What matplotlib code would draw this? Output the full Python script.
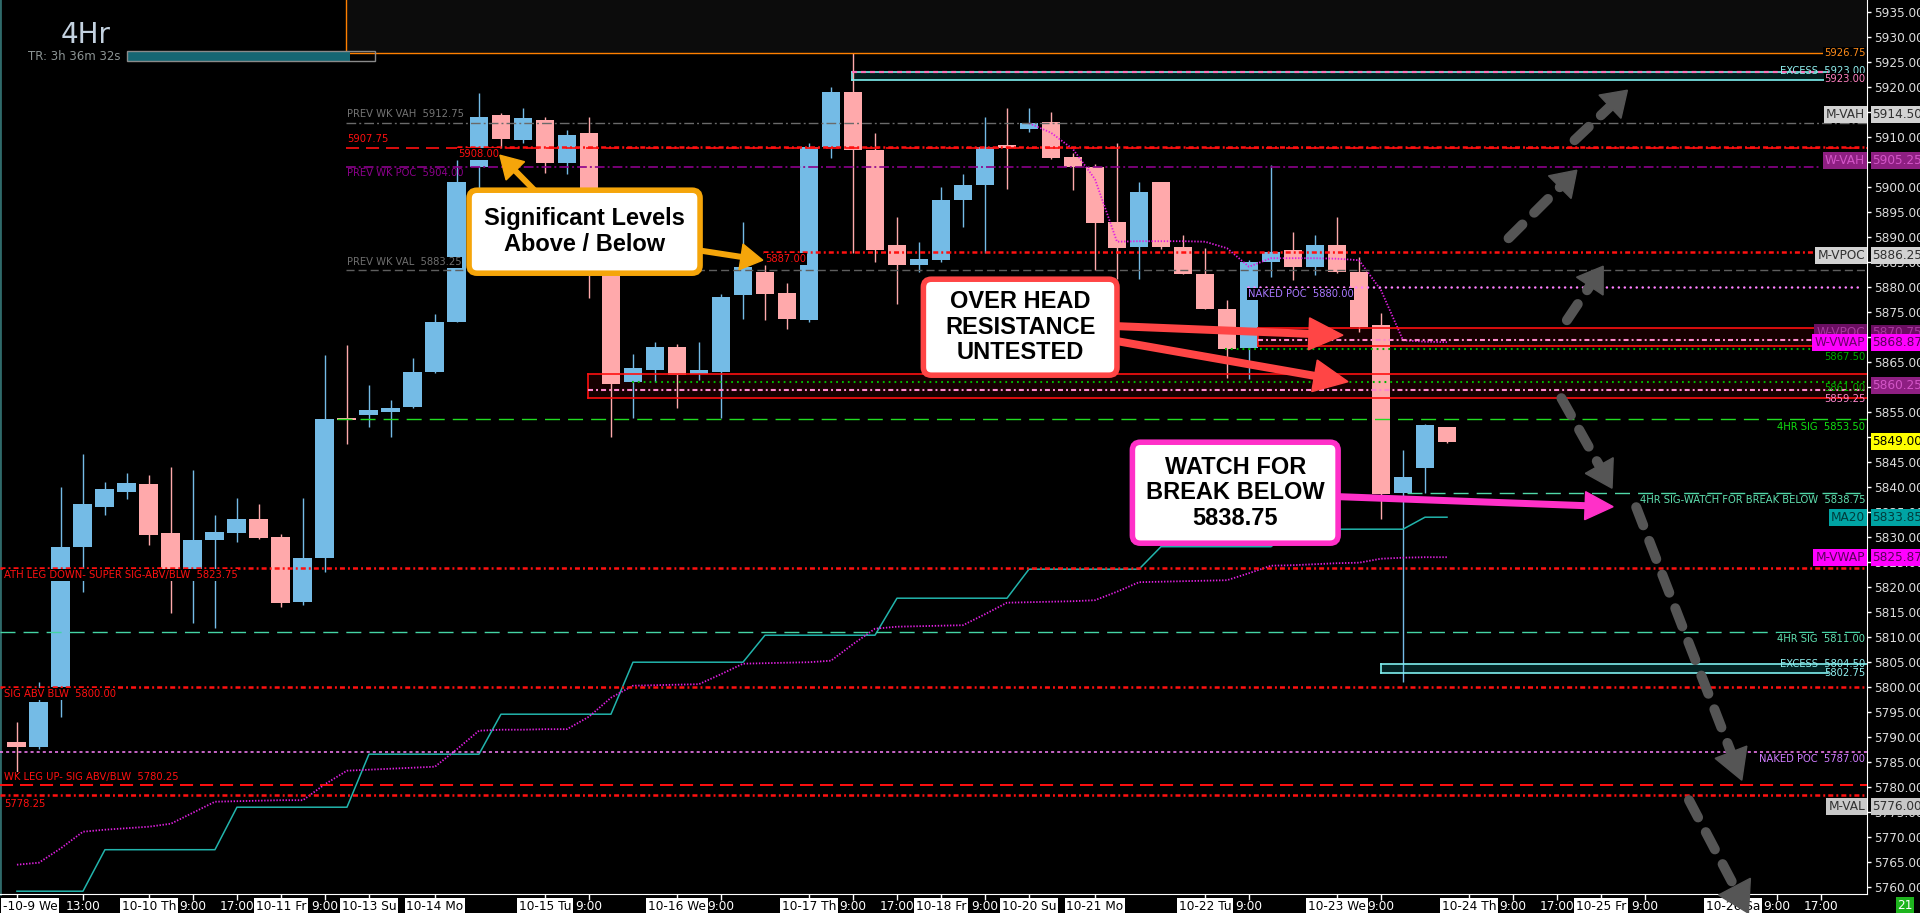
import numpy as np
import matplotlib
matplotlib.use("Agg")
import matplotlib.pyplot as plt
import matplotlib.transforms as mtransforms
from matplotlib import font_manager
from matplotlib.lines import Line2D
from matplotlib.patches import Rectangle, FancyBboxPatch, Polygon

W, H, DPI = 1920, 913, 100

# ---------------------------------------------------------------- data
FIRST_BAR = -6  # bar index of first 4hr candle (10-10 Th 1:00 bar = 0)

OPENS = [5789.0, 5788.0, 5800.0, 5828.0, 5836.0, 5839.0, 5840.5, 5830.75, 5823.5, 5829.25,
         5830.75, 5833.5, 5830.0, 5817.0, 5825.75, 5853.75, 5854.25, 5855.0, 5856.0, 5863.0,
         5873.0, 5904.0, 5914.25, 5909.25, 5913.25, 5904.75, 5910.75, 5891.0, 5861.0, 5863.25,
         5868.0, 5862.5, 5863.0, 5878.25, 5883.0, 5878.75, 5873.25, 5908.0, 5919.0, 5907.25,
         5888.25, 5884.25, 5885.25, 5897.25, 5900.25, 5908.0, 5911.5, 5913.0, 5906.0, 5904.0,
         5893.0, 5888.0, 5901.0, 5888.0, 5882.5, 5875.5, 5867.75, 5885.0, 5887.25, 5884.0,
         5888.25, 5883.0, 5872.25, 5838.75, 5843.75, 5852.0]
HIGHS = [5793.0, 5801.0, 5840.0, 5846.5, 5841.0, 5842.75, 5842.25, 5844.0, 5843.25, 5834.25,
         5837.75, 5836.5, 5830.5, 5837.75, 5866.25, 5868.25, 5860.25, 5857.25, 5865.75, 5874.5,
         5905.25, 5918.75, 5914.75, 5915.75, 5914.0, 5911.25, 5914.0, 5893.0, 5866.5, 5869.0,
         5868.5, 5869.0, 5878.5, 5893.0, 5884.25, 5880.75, 5908.75, 5920.0, 5926.75, 5910.75,
         5894.0, 5889.0, 5900.0, 5902.5, 5914.0, 5915.75, 5915.75, 5915.0, 5906.75, 5904.5,
         5908.75, 5901.0, 5901.0, 5890.25, 5887.75, 5877.25, 5885.25, 5904.25, 5891.0, 5890.25,
         5894.0, 5886.0, 5874.75, 5847.25, 5852.5, 5852.0]
LOWS = [5783.0, 5787.5, 5794.0, 5819.0, 5834.25, 5837.5, 5828.25, 5814.75, 5812.75, 5811.75,
        5829.0, 5829.5, 5816.0, 5816.25, 5823.0, 5848.5, 5852.0, 5850.0, 5855.75, 5862.75,
        5873.0, 5899.5, 5907.75, 5908.75, 5902.75, 5902.5, 5877.75, 5850.0, 5853.75, 5861.0,
        5855.75, 5861.25, 5853.75, 5873.5, 5873.25, 5871.5, 5873.0, 5905.75, 5886.75, 5885.0,
        5876.5, 5883.0, 5885.0, 5892.0, 5886.75, 5899.5, 5911.0, 5905.5, 5899.25, 5883.25,
        5881.5, 5881.5, 5887.5, 5882.5, 5875.5, 5861.75, 5861.5, 5882.0, 5881.25, 5882.25,
        5882.75, 5871.0, 5833.5, 5801.0, 5838.75, 5848.75]
CLOSES = [5788.0, 5797.0, 5828.0, 5836.5, 5839.5, 5840.75, 5830.25, 5823.5, 5829.25, 5831.0,
          5833.5, 5829.75, 5816.75, 5825.75, 5853.5, 5853.25, 5855.25, 5855.75, 5863.0, 5873.0,
          5901.0, 5914.0, 5909.5, 5913.75, 5904.75, 5910.25, 5892.0, 5860.5, 5863.75, 5868.0,
          5862.25, 5863.25, 5878.0, 5884.0, 5878.5, 5873.5, 5908.0, 5919.0, 5907.25, 5887.25,
          5884.25, 5885.5, 5897.25, 5900.25, 5908.0, 5907.75, 5912.75, 5905.75, 5904.0, 5892.75,
          5887.75, 5899.0, 5888.0, 5882.5, 5875.5, 5867.5, 5885.0, 5887.0, 5884.0, 5888.25,
          5883.0, 5872.0, 5838.5, 5842.0, 5852.25, 5849.0]

MA20 = [5759.1, 5759.1, 5759.1, 5759.1, 5767.4, 5767.4, 5767.4, 5767.4, 5767.4, 5767.4,
        5775.9, 5775.9, 5775.9, 5775.9, 5775.9, 5775.9, 5786.5, 5786.5, 5786.5, 5786.5,
        5786.5, 5786.5, 5794.5, 5794.5, 5794.5, 5794.5, 5794.5, 5794.5, 5804.9, 5804.9,
        5804.9, 5804.9, 5804.9, 5804.9, 5810.3, 5810.3, 5810.3, 5810.3, 5810.3, 5810.3,
        5817.7, 5817.7, 5817.7, 5817.7, 5817.7, 5817.7, 5823.5, 5823.5, 5823.5, 5823.5,
        5823.5, 5823.5, 5828.0, 5828.0, 5828.0, 5828.0, 5828.0, 5828.0, 5831.5, 5831.5,
        5831.5, 5831.5, 5831.5, 5831.5, 5833.9, 5833.9]
M_VWAP = [5764.4, 5764.8, 5767.7, 5771.0, 5771.4, 5771.7, 5772.0, 5772.6, 5774.8, 5777.0,
          5777.1, 5777.2, 5777.3, 5777.3, 5780.5, 5783.2, 5783.4, 5783.6, 5783.8, 5784.0,
          5787.5, 5791.2, 5791.4, 5791.4, 5791.5, 5791.5, 5794.0, 5797.8, 5800.2, 5800.3,
          5800.4, 5800.5, 5802.5, 5804.6, 5804.7, 5804.8, 5804.9, 5805.2, 5808.5, 5811.6,
          5812.0, 5812.1, 5812.2, 5812.3, 5814.5, 5816.8, 5816.9, 5817.0, 5817.1, 5817.3,
          5819.0, 5820.9, 5821.0, 5821.1, 5821.2, 5821.3, 5822.7, 5824.2, 5824.3, 5824.5,
          5824.7, 5824.8, 5825.6, 5825.8, 5825.9, 5825.9]
W_VWAP_FIRST_BAR = 40
W_VWAP = [5912.7, 5910.8, 5907.5, 5901.5, 5889.0, 5889.1, 5889.1, 5889.1, 5889.0, 5887.7,
          5884.0, 5885.7, 5885.7, 5885.7, 5885.6, 5885.3, 5879.3, 5869.3, 5869.0, 5868.9]

TICK_BARS = [-6, -3, 0, 2, 4, 6, 8, 10, 13, 18, 20, 24, 26, 30, 32, 34, 36, 38, 40, 43,
             48, 50, 54, 56, 60, 62, 64, 66, 68, 72, 74, 76]
TICK_LABELS = ["-10-9 We", "13:00", "10-10 Th", "9:00", "17:00", "10-11 Fr", "9:00", "10-13 Su",
               "10-14 Mo", "10-15 Tu", "9:00", "10-16 We", "9:00", "10-17 Th", "9:00", "17:00",
               "10-18 Fr", "9:00", "10-20 Su", "10-21 Mo", "10-22 Tu", "9:00", "10-23 We", "9:00",
               "10-24 Th", "9:00", "17:00", "10-25 Fr", "9:00", "10-26 Sa", "9:00", "17:00"]
PRICE_TICKS = [5760, 5765, 5770, 5775, 5780, 5785, 5790, 5795, 5800, 5805, 5810, 5815, 5820,
               5825, 5830, 5835, 5840, 5845, 5850, 5855, 5860, 5865, 5870, 5875, 5880, 5885,
               5890, 5895, 5900, 5905, 5910, 5915, 5920, 5925, 5930, 5935]

# key levels
HIGH_LEVEL = 5926.75
EXCESS_TOP = (5921.3, 5923.00)
PREV_WK_VAH = 5912.75
RED_LEVEL_A = 5907.75
RED_LEVEL_B = 5908.00
PREV_WK_POC = 5904.00
RED_LEVEL_C = 5887.00
PREV_WK_VAL = 5883.25
NAKED_POC_HI = 5880.00
ZONE_UPPER = (5868.1, 5871.7)
ZONE_UPPER_MID = 5869.25
GREEN_UPPER = 5867.50
ZONE_LOWER = (5857.7, 5862.5)
GREEN_LOWER = 5861.00
ZONE_LOWER_MID = 5859.25
SIG_4HR = 5853.50
SIG_4HR_WATCH = 5838.75
ATH_LEG_DOWN = 5823.75
SIG_4HR_LOW = 5811.00
EXCESS_LOW = (5802.75, 5804.50)
SIG_ABV_BLW = 5800.00
NAKED_POC_LO = 5787.00
WK_LEG_UP = 5780.25
RED_LEVEL_LOW = 5778.25

MARKER_NAMES = ["M-VAH", "W-VAH", "M-VPOC", "W-VPOC", "W-VWAP", "MA20", "M-VWAP", "M-VAL"]
MARKER_VALUES = [5914.50, 5905.25, 5886.25, 5870.75, 5868.87, 5833.85, 5825.87, 5776.00]
EXTRA_AXIS_VALUES = [5860.25, 5849.00]

# ---------------------------------------------------------------- style
installed = {f.name for f in font_manager.fontManager.ttflist}
NARROW = "Liberation Sans Narrow" if "Liberation Sans Narrow" in installed else "DejaVu Sans"
SMALL = 9.2 if NARROW != "DejaVu Sans" else 7.2
BOLD = "Liberation Sans" if "Liberation Sans" in installed else "DejaVu Sans"
plt.rcParams["lines.scale_dashes"] = False

BLUE = "#74bbe6"
PINK = "#ffa9ab"
RED = "#ff1010"
DASHDOT = (3.6, 2.2, 1.4, 2.2)
LONGDASH = (9.4, 5.0)
IDENT = mtransforms.IdentityTransform()

XMIN, XMAX = -6.77, 78.09
YMIN, YMAX = 5758.54, 5937.34
X_RIGHT_LBL = 78.02
X_LEFT_LBL = -6.6
X_PROFILE = 8.95

fig = plt.figure(figsize=(W / DPI, H / DPI), dpi=DPI, facecolor="black")
ax = fig.add_axes([0, 19 / H, 1867 / W, 894 / H], facecolor="black")
ax.set_xlim(XMIN, XMAX)
ax.set_ylim(YMIN, YMAX)

# ---------------------------------------------------------------- candles
bars = np.arange(FIRST_BAR, FIRST_BAR + len(OPENS))
o, h, l, c = (np.array(a) for a in (OPENS, HIGHS, LOWS, CLOSES))
cols = np.where(c >= o, BLUE, PINK)
ax.vlines(bars, l, h, colors=cols, lw=1, zorder=3)
ax.bar(bars, np.maximum(np.abs(c - o), 0.5), bottom=np.minimum(o, c), width=0.86,
       color=cols, linewidth=0, zorder=4)

# moving average and vwaps
ax.plot(bars, MA20, color="#22b4ac", lw=1.1, zorder=5)
ax.plot(bars, M_VWAP, color="#e020e0", lw=1.3, dashes=(1.0, 1.2), zorder=5)
wb = np.arange(W_VWAP_FIRST_BAR, W_VWAP_FIRST_BAR + len(W_VWAP))
ax.plot(wb, W_VWAP, color="#e020e0", lw=1.3, dashes=(1.0, 1.2), zorder=5)


def level(price, start, color, lw=1.0, dashes=None, end=XMAX, z=6, cap="butt"):
    kw = {"dashes": dashes} if dashes else {}
    ax.plot([start, end], [price, price], color=color, lw=lw, zorder=z,
            solid_capstyle="butt", dash_capstyle=cap, **kw)


def zone(lo, hi, start, end, face, edge, lw=1.2):
    ax.add_patch(Rectangle((start, lo), end - start, hi - lo, facecolor=face,
                           edgecolor="none", zorder=1))
    ax.plot([start, end], [hi, hi], color=edge, lw=lw, zorder=6)
    ax.plot([start, end], [lo, lo], color=edge, lw=lw, zorder=6)
    ax.plot([start, start], [lo, hi], color=edge, lw=lw, zorder=6)


def label(x, price, text, color, ha="left", bg="black", size=None):
    ax.text(x, price, text, color=color, ha=ha, va="center", fontsize=size or SMALL,
            family=NARROW, zorder=8,
            bbox=dict(facecolor=bg, edgecolor="none", pad=0.6) if bg else None)


# top range box
ax.add_patch(Rectangle((X_PROFILE, HIGH_LEVEL), XMAX - X_PROFILE, YMAX - HIGH_LEVEL,
                       facecolor="#0c0c0c", edgecolor="none", zorder=0.5))
ax.plot([X_PROFILE, X_PROFILE], [HIGH_LEVEL, YMAX], color="#ff8000", lw=1, zorder=6)
level(HIGH_LEVEL, X_PROFILE, "#ff8000", end=76.3)
label(X_RIGHT_LBL, HIGH_LEVEL, "5926.75", "#ff8c1a", ha="right")

# excess box up top
zone(EXCESS_TOP[0], EXCESS_TOP[1], 31.95, 76.3, "#021c1e", "#7ff0f0")
level(EXCESS_TOP[1], 31.95, "#ff70b8", lw=1.6, dashes=(3.5, 3.0), end=76.3, z=7)
label(X_RIGHT_LBL, EXCESS_TOP[1] + 0.1, "EXCESS  5923.00", "#90f0f0", ha="right", bg=None)
label(X_RIGHT_LBL, EXCESS_TOP[0] + 0.2, "5923.00", "#ff80c0", ha="right")

# previous week profile levels
level(PREV_WK_VAH, X_PROFILE, "#6a6a6a", dashes=(7, 2.2, 1.4, 2.2))
label(X_PROFILE + 0.05, PREV_WK_VAH + 1.7, "PREV WK VAH  5912.75", "#747474", bg=None)
level(RED_LEVEL_A, X_PROFILE, RED, lw=1.2, dashes=LONGDASH)
label(X_PROFILE + 0.05, RED_LEVEL_A + 1.8, "5907.75", RED, bg=None)
level(RED_LEVEL_B, 14.0, RED, lw=1.8, dashes=DASHDOT)
label(14.05, RED_LEVEL_B - 1.4, "5908.00", RED)
level(PREV_WK_POC, X_PROFILE, "#8b008b", lw=1.2, dashes=(7, 2.2, 1.4, 2.2), end=75.95)
label(X_PROFILE + 0.05, PREV_WK_POC - 1.3, "PREV WK POC  5904.00", "#8b008b", bg=None)
level(RED_LEVEL_C, 27.9, RED, lw=1.8, dashes=DASHDOT)
label(28.0, RED_LEVEL_C - 1.4, "5887.00", RED)
level(PREV_WK_VAL, X_PROFILE, "#5e5e5e", dashes=(5.8, 2.9))
label(X_PROFILE + 0.05, PREV_WK_VAL + 1.6, "PREV WK VAL  5883.25", "#6e6e6e")
level(NAKED_POC_HI, 49.95, "#ff80ff", lw=1.8, dashes=(0.1, 4.2), end=77.9, cap="round")
label(49.95, NAKED_POC_HI - 1.4, "NAKED POC  5880.00", "#a878ff")

# untested resistance zones
zone(ZONE_UPPER[0], ZONE_UPPER[1], 50.4, XMAX, "#160000", RED)
level(ZONE_UPPER_MID, 50.4, "#ff88cc", lw=1.5, dashes=DASHDOT)
level(GREEN_UPPER, 48.9, "#00b400", lw=1.5, dashes=(1.3, 2.9))
zone(ZONE_LOWER[0], ZONE_LOWER[1], 19.97, XMAX, "#160000", RED)
level(GREEN_LOWER, 21.95, "#00b400", lw=1.5, dashes=(1.3, 2.9))
level(ZONE_LOWER_MID, 19.97, "#ff88cc", lw=1.5, dashes=DASHDOT)
label(X_RIGHT_LBL, 5868.0, "5869.25", "#ff88cc", ha="right", bg=None)
label(X_RIGHT_LBL, 5866.0, "5867.50", "#00a800", ha="right", bg=None)
label(X_RIGHT_LBL, 5859.7, "5861.00", "#00b400", ha="right", bg=None)
label(X_RIGHT_LBL, 5857.6, "5859.25", "#ff88cc", ha="right", bg=None)

# 4hr signals
level(SIG_4HR, 8.55, "#22dd22", dashes=(10.8, 5.8))
label(X_RIGHT_LBL, SIG_4HR - 1.5, "4HR SIG  5853.50", "#10e010", ha="right")
level(SIG_4HR_WATCH, 57.2, "#50d8a8", dashes=(10.8, 5.8))
label(X_RIGHT_LBL, SIG_4HR_WATCH - 1.5, "4HR SIG-WATCH FOR BREAK BELOW  5838.75", "#60e0b0",
      ha="right")
level(SIG_4HR_LOW, XMIN, "#44d4a4", dashes=(10.8, 5.8))
label(X_RIGHT_LBL, SIG_4HR_LOW - 1.5, "4HR SIG  5811.00", "#60e0b0", ha="right")

# lower levels
level(ATH_LEG_DOWN, XMIN, RED, lw=1.8, dashes=DASHDOT)
label(X_LEFT_LBL, ATH_LEG_DOWN - 1.4, "ATH LEG DOWN- SUPER SIG-ABV/BLW  5823.75", RED)
zone(EXCESS_LOW[0], EXCESS_LOW[1], 56.0, 76.3, "#022222", "#7ff0f0")
level(EXCESS_LOW[1], 76.3, "#7ff0f0", lw=1.2)
label(X_RIGHT_LBL, EXCESS_LOW[1], "EXCESS  5804.50", "#90f0f0", ha="right", bg=None)
label(X_RIGHT_LBL, EXCESS_LOW[0], "5802.75", "#90f0f0", ha="right", bg=None)
level(SIG_ABV_BLW, XMIN, RED, lw=1.8, dashes=DASHDOT)
label(X_LEFT_LBL, SIG_ABV_BLW - 1.5, "SIG ABV BLW  5800.00", RED)
level(NAKED_POC_LO, XMIN, "#ff80ff", lw=1.1, dashes=(2.2, 2.2))
label(X_RIGHT_LBL, NAKED_POC_LO - 1.5, "NAKED POC  5787.00", "#d07cff", ha="right")
level(WK_LEG_UP, XMIN, RED, lw=1.4, dashes=LONGDASH)
label(X_LEFT_LBL, WK_LEG_UP + 1.6, "WK LEG UP- SIG ABV/BLW  5780.25", RED)
level(RED_LEVEL_LOW, XMIN, RED, lw=1.8, dashes=DASHDOT)
label(X_LEFT_LBL, RED_LEVEL_LOW - 1.8, "5778.25", RED, bg=None)

# marker tags on the right edge of the chart and in the price scale
tag_style = {
    "M-VAH": ("#d2d2d2", "#303030"), "W-VAH": ("#8e1f82", "#d455c8"),
    "M-VPOC": ("#d2d2d2", "#303030"), "W-VPOC": ("#6b0f62", "#a83aa0"),
    "W-VWAP": ("#ff00ff", "#6a006a"), "MA20": ("#00a4a4", "#003c3c"),
    "M-VWAP": ("#ff00ff", "#5a005a"), "M-VAL": ("#c8c8c8", "#303030"),
}
ax_tr = mtransforms.blended_transform_factory(ax.transAxes, ax.transData)
for name, val in zip(MARKER_NAMES, MARKER_VALUES):
    bg, fg = tag_style[name]
    ax.text(78.0, val, name, ha="right", va="center", fontsize=SMALL + 1.5, family=NARROW,
            color=fg, zorder=9, bbox=dict(facecolor=bg, edgecolor="none", pad=1.5))
    ax.text(1.0029, val, f"{val:.2f}", transform=ax_tr, ha="left", va="center",
            fontsize=SMALL + 1.5, family=NARROW, color=fg if bg != "#ff00ff" else "#5a005a",
            zorder=20, clip_on=False, bbox=dict(facecolor=bg, edgecolor="none", pad=1.3))
extra_style = [("#8e1f82", "#d455c8"), ("#ffff00", "#000000")]
for val, (bg, fg) in zip(EXTRA_AXIS_VALUES, extra_style):
    ax.text(1.0029, val, f"{val:.2f}", transform=ax_tr, ha="left", va="center",
            fontsize=SMALL + 1.5, family=NARROW, color=fg, zorder=20, clip_on=False,
            bbox=dict(facecolor=bg, edgecolor="none", pad=1.3))

# ---------------------------------------------------------------- axes
for side in ("top",):
    ax.spines[side].set_visible(False)
ax.spines["right"].set_color("white")
ax.spines["bottom"].set_color("white")
ax.spines["left"].set_color("#2f6a6a")
ax.spines["left"].set_linewidth(2)
ax.yaxis.tick_right()
ax.set_yticks(PRICE_TICKS)
ax.set_yticklabels([f"{p:.2f}" for p in PRICE_TICKS])
ax.tick_params(axis="y", colors="white", labelcolor="#dcdcdc", length=3, width=1, pad=2,
               labelsize=SMALL + 1.5, labelfontfamily=NARROW)
ax.set_xticks(TICK_BARS)
ax.set_xticklabels([])
ax.tick_params(axis="x", colors="white", length=4, width=1)

tx = mtransforms.blended_transform_factory(ax.transData, ax.transAxes)
for b, t in zip(TICK_BARS, TICK_LABELS):
    is_date = "-" in t
    x = b
    ha = "center"
    if t.startswith("-"):
        x, ha = XMIN + 0.12, "left"
    ax.text(x, -12 / 894, t, transform=tx, ha=ha, va="center", fontsize=SMALL + 1.5,
            family=NARROW, color="black" if is_date else "white", clip_on=False, zorder=9,
            bbox=dict(facecolor="white", edgecolor="none", pad=1.2) if is_date else None)

fig.text(1905 / W, 1 - 905 / H, "21", ha="center", va="center", fontsize=SMALL + 1.5,
         family=NARROW, color="white",
         bbox=dict(facecolor="#1eb41e", edgecolor="none", pad=1.2))

# header: timeframe and bar timer
fig.text(86 / W, 1 - 35 / H, "4Hr", ha="center", va="center", fontsize=20, family=NARROW,
         color="#c4d2e0")
fig.text(121 / W, 1 - 57 / H, "TR: 3h 36m 32s", ha="right", va="center", fontsize=8.5,
         family=NARROW, color="#8c9494")
fig.add_artist(Rectangle((127 / W, 1 - 61 / H), 223 / W, 10 / H, transform=fig.transFigure,
                         facecolor="#156673", edgecolor="none", zorder=10))
fig.add_artist(Rectangle((127 / W, 1 - 61 / H), 248 / W, 10 / H, transform=fig.transFigure,
                         facecolor="none", edgecolor="#8a8a8a", lw=1, zorder=11))


# ---------------------------------------------------------------- annotations
def arrow(tail, tip, color, width, head_len, head_w, dashes=None):
    (x0, y0), (x1, y1) = ax.transData.transform([tail, tip])
    ux, uy = x1 - x0, y1 - y0
    n = np.hypot(ux, uy)
    ux, uy = ux / n, uy / n
    bx, by = x1 - ux * head_len, y1 - uy * head_len
    ex, ey = x1 - ux * head_len * 0.8, y1 - uy * head_len * 0.8
    shaft = Line2D([x0, ex], [y0, ey], transform=IDENT, color=color, lw=width * 0.72,
                   solid_capstyle="round", dash_capstyle="round", zorder=12)
    if dashes:
        shaft.set_dashes(dashes)
    fig.add_artist(shaft)
    fig.add_artist(Polygon([(x1, y1), (bx - uy * head_w / 2, by + ux * head_w / 2),
                            (bx + uy * head_w / 2, by - ux * head_w / 2)], closed=True,
                           transform=IDENT, facecolor=color, edgecolor=color, lw=1, zorder=12))


def callout(x0, x1, p0, p1, text, edge):
    (X0, Y0), (X1, Y1) = ax.transData.transform([(x0, p0), (x1, p1)])
    fig.add_artist(FancyBboxPatch((X0, Y0), X1 - X0, Y1 - Y0,
                                  boxstyle="round,pad=0,rounding_size=8", transform=IDENT,
                                  facecolor="white", edgecolor=edge, lw=4, zorder=13))
    fig.text((X0 + X1) / 2, (Y0 + Y1) / 2, text, transform=IDENT, ha="center", va="center",
             fontsize=17, fontweight="bold", family=BOLD, color="black", linespacing=1.15,
             zorder=14)


GRAY = "#555555"
arrow((64.8, 5909.3), (67.2, 5919.3), GRAY, 10, 24, 32, dashes=(14, 12))
arrow((61.8, 5889.7), (64.9, 5903.3), GRAY, 10, 24, 32, dashes=(14, 12))
arrow((64.45, 5873.3), (66.1, 5884.1), GRAY, 10, 24, 32, dashes=(14, 12))
arrow((64.2, 5857.7), (66.5, 5839.7), GRAY, 10, 26, 32, dashes=(14, 12))
arrow((67.6, 5835.9), (72.4, 5781.3), GRAY, 10, 30, 34, dashes=(14, 12))
arrow((70.0, 5777.3), (72.7, 5754.7), GRAY, 10, 30, 36, dashes=(14, 12))

arrow((17.7, 5898.5), (15.95, 5906.3), "#f5a50a", 6, 22, 26)
arrow((24.5, 5887.6), (27.9, 5885.3), "#f5a50a", 6, 22, 26)
arrow((43.5, 5872.2), (54.27, 5870.3), "#ff4545", 8, 34, 32)
arrow((43.5, 5869.5), (54.5, 5861.0), "#ff4545", 8, 34, 32)
arrow((53.5, 5838.1), (66.55, 5836.0), "#ff30c8", 7, 28, 28)

callout(14.55, 25.05, 5882.7, 5899.3, "Significant Levels\nAbove / Below", "#f5a50a")
callout(35.2, 44.0, 5862.3, 5881.5, "OVER HEAD\nRESISTANCE\nUNTESTED", "#ff4545")
callout(44.7, 54.05, 5828.7, 5848.9, "WATCH FOR\nBREAK BELOW\n5838.75", "#ff30c8")

fig.savefig("out.png", dpi=DPI, facecolor="black")
